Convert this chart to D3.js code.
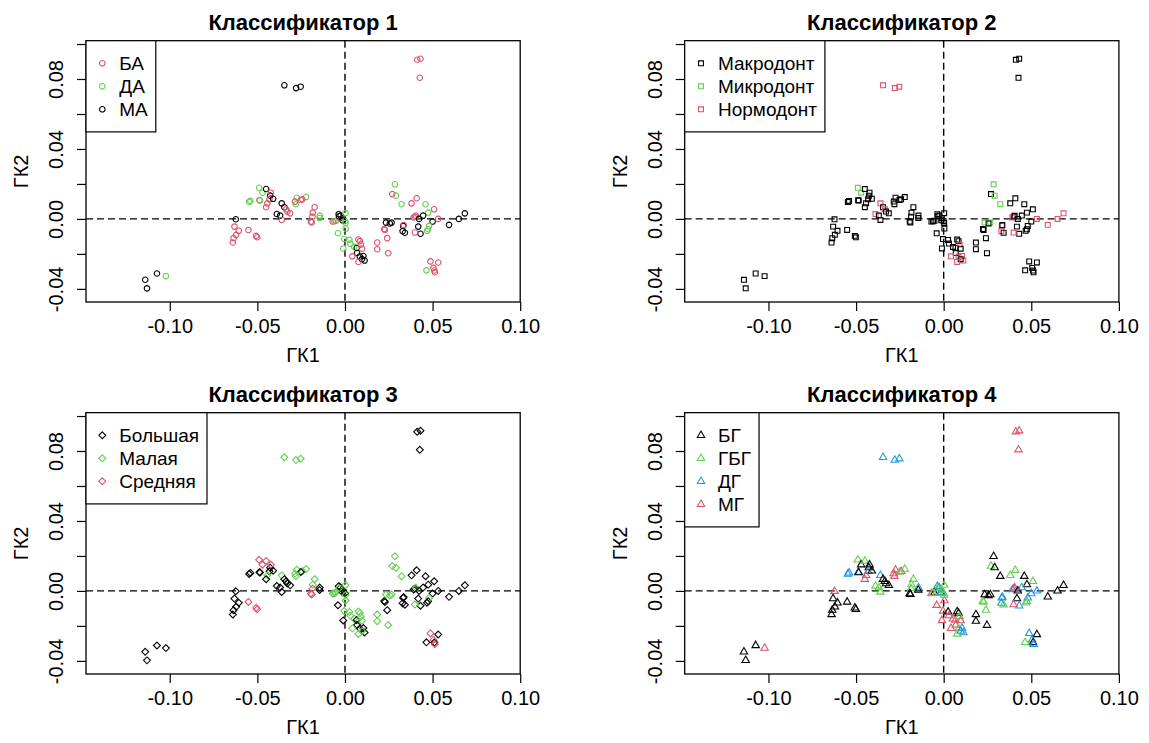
<!DOCTYPE html>
<html>
<head>
<meta charset="utf-8">
<script src="https://cdn.jsdelivr.net/npm/d3@7"></script>
<style>
  body { margin: 0; background: #ffffff; }
  svg { display: block; }
  text { font-family: "Liberation Sans", Arial, sans-serif; fill: #000; }
</style>
</head>
<body>
<svg id="chart" width="1149" height="743"></svg>
<script>
// Canonical-variate scores (ГК1, ГК2) of every specimen
const gk1 = [
  -0.0346, -0.0279, -0.0253, 0.0412, 0.0431, 0.0427, -0.1140, -0.1073, -0.1130, -0.1022,
  -0.0623, -0.0631, -0.0606, -0.0621, -0.0636, -0.0640, -0.0551, -0.0507, -0.0501,
  -0.0490, -0.0471, -0.0450, -0.0427, -0.0423, -0.0540, -0.0547, -0.0488, -0.0485, -0.0431, -0.0443, -0.0450, -0.0410,
  -0.0361, -0.0346, -0.0336, -0.0313, -0.0389, -0.0370, -0.0361, -0.0329,
  -0.0275, -0.0222, -0.0243, -0.0252, -0.0281, -0.0285,
  -0.0173, -0.0184, -0.0186, -0.0194, -0.0190, -0.0144, -0.0145,
  -0.0036, -0.0025, -0.0011, 0.0003, -0.0070, -0.0053, -0.0061, 0.0000, -0.0014, -0.0034,
  -0.0040, 0.0004, -0.0004, 0.0025, -0.0010, 0.0030, 0.0053, 0.0003,
  0.0067, 0.0069, 0.0085, 0.0105, 0.0112, 0.0097, 0.0077, 0.0085, 0.0091, 0.0097, 0.0042, 0.0077,
  0.0184, 0.0184, 0.0247, 0.0241, 0.0228, 0.0224, 0.0234, 0.0266, 0.0256,
  0.0285, 0.0270, 0.0291, 0.0323, 0.0380, 0.0409, 0.0460, 0.0509, 0.0475,
  0.0399, 0.0392, 0.0405, 0.0423, 0.0446, 0.0500, 0.0532, 0.0418, 0.0431, 0.0399, 0.0475, 0.0480, 0.0468,
  0.0332, 0.0329, 0.0342, 0.0335, 0.0594, 0.0650, 0.0684,
  0.0488, 0.0532, 0.0505, 0.0510, 0.0465, 0.0513
];
const gk2 = [
  0.0764, 0.0748, 0.0756, 0.0910, 0.0916, 0.0807, -0.0348, -0.0312, -0.0397, -0.0327,
  -0.0002, -0.0044, -0.0068, -0.0091, -0.0110, -0.0135, -0.0063, -0.0097, -0.0105,
  0.0178, 0.0150, 0.0171, 0.0133, 0.0150, 0.0103, 0.0097, 0.0107, 0.0105, 0.0112, 0.0089, 0.0067, 0.0115,
  0.0089, 0.0067, 0.0055, 0.0032, 0.0028, 0.0019, -0.0006, 0.0042,
  0.0121, 0.0125, 0.0112, 0.0108, 0.0084, 0.0099,
  0.0067, 0.0036, 0.0013, -0.0015, -0.0020, 0.0019, 0.0005,
  0.0027, 0.0019, 0.0004, 0.0033, -0.0015, -0.0011, -0.0013, -0.0013, -0.0008, 0.0015,
  -0.0082, -0.0055, -0.0115, -0.0120, -0.0169, -0.0141, -0.0160, -0.0023,
  -0.0166, -0.0195, -0.0215, -0.0212, -0.0238, -0.0230, -0.0118, -0.0127, -0.0147, -0.0170, -0.0214, -0.0246,
  -0.0135, -0.0173, -0.0196, -0.0110, -0.0063, -0.0058, -0.0021, -0.0021, -0.0026,
  0.0198, 0.0142, 0.0133, 0.0084, 0.0089, 0.0118, 0.0084, 0.0055, 0.0036,
  0.0013, 0.0008, 0.0018, 0.0000, 0.0019, -0.0015, 0.0000, -0.0044, -0.0085, -0.0078, -0.0059, -0.0040, -0.0068,
  -0.0040, -0.0070, -0.0079, -0.0035, -0.0034, 0.0000, 0.0032,
  -0.0243, -0.0249, -0.0280, -0.0295, -0.0294, -0.0305
];

// Group of every specimen under each classifier (index into the legend labels)
const legend1 = ["БА", "ДА", "МА"];
const class1 = [
  2,2,2,0,0,0,2,2,2,1,
  2,0,0,0,0,0,0,0,0,
  1,1,2,2,0,1,1,0,1,0,0,0,2,
  2,2,0,0,2,2,0,0,
  1,1,0,0,1,0,
  0,0,0,0,0,1,1,
  2,2,2,1,0,0,1,1,2,2,
  1,1,1,1,1,1,1,1,
  2,2,2,2,2,2,0,0,0,0,0,0,
  0,0,0,0,0,0,2,2,2,
  1,0,1,1,0,0,1,0,1,
  0,0,0,2,2,2,0,2,2,0,1,1,1,
  2,2,2,0,2,2,2,
  0,0,0,0,1,0
];
const legend2 = ["Макродонт", "Микродонт", "Нормодонт"];
const class2 = [
  2,2,2,0,0,0,0,0,0,0,
  0,0,0,0,0,0,0,0,0,
  1,1,0,0,0,0,0,0,0,0,0,0,0,
  2,0,2,0,2,0,0,0,
  0,0,0,0,0,0,
  0,0,0,0,0,0,0,
  0,0,0,0,0,0,0,0,0,0,
  0,0,0,0,0,0,0,0,
  0,0,2,2,2,0,0,0,2,0,2,2,
  0,0,0,0,0,0,1,1,0,
  1,0,1,1,0,0,0,0,0,
  0,2,0,0,0,0,2,0,0,2,0,0,0,
  2,2,0,0,2,2,2,
  0,0,0,0,0,0
];
const legend3 = ["Большая", "Малая", "Средняя"];
const class3 = [
  1,1,1,0,0,0,0,0,0,0,
  0,0,0,0,0,0,2,2,2,
  2,2,2,0,2,0,0,0,0,0,1,0,0,
  1,0,0,0,0,0,0,0,
  1,1,1,0,1,1,
  1,1,2,2,2,0,0,
  0,0,0,1,1,1,1,0,0,1,
  0,1,1,1,0,1,1,1,
  0,0,0,0,0,1,1,1,1,1,1,1,
  1,1,1,0,0,0,1,1,1,
  1,1,1,1,0,0,0,0,0,
  0,0,1,0,0,0,0,0,0,1,0,1,0,
  0,0,0,0,0,0,0,
  2,0,2,0,0,2
];
const legend4 = ["БГ", "ГБГ", "ДГ", "МГ"];
const class4 = [
  2,2,2,3,3,3,0,0,0,3,
  3,0,0,0,0,0,0,0,0,
  1,0,1,0,0,2,2,2,0,2,3,3,0,
  2,0,0,0,1,1,1,0,
  3,1,3,1,3,3,
  1,1,1,0,0,2,0,
  2,2,1,1,3,0,1,1,2,1,
  3,3,3,0,3,3,3,1,
  3,3,1,2,2,2,0,0,1,3,3,1,
  0,0,0,1,1,1,0,0,0,
  0,1,0,0,1,1,0,1,0,
  3,2,3,0,2,2,2,0,2,3,1,2,1,
  2,2,1,2,0,0,0,
  2,0,2,0,1,2
];

// Axis ticks
const xTicks = [-0.10, -0.05, 0.00, 0.05, 0.10];
const yTicks = [-0.04, -0.02, 0.00, 0.02, 0.04, 0.06, 0.08, 0.10];
const yTickLabels = [-0.04, 0.00, 0.04, 0.08];

// R-style plotting symbols (size argument = circle radius)
const symCircle = { draw(c, r) { c.moveTo(r, 0); c.arc(0, 0, r, 0, 2 * Math.PI); c.closePath(); } };
const symSquare = { draw(c, r) { const s = 0.8862 * r; c.rect(-s, -s, 2 * s, 2 * s); } };
const symDiamond = { draw(c, r) { const d = 1.2533 * r; c.moveTo(0, -d); c.lineTo(d, 0); c.lineTo(0, d); c.lineTo(-d, 0); c.closePath(); } };
const symTriangle = { draw(c, r) { const a = 1.5551 * r, b = 0.7776 * r, w = 1.3468 * r; c.moveTo(0, -a); c.lineTo(w, b); c.lineTo(-w, b); c.closePath(); } };

const RED = "#DF536B", GREEN = "#61D04F", BLUE = "#2297E6", BLACK = "#000000";

const panels = [
  { title: "Классификатор 1", groups: class1, labels: legend1, colors: [RED, GREEN, BLACK], shape: symCircle, col: 0, row: 0 },
  { title: "Классификатор 2", groups: class2, labels: legend2, colors: [BLACK, GREEN, RED], shape: symSquare, col: 1, row: 0 },
  { title: "Классификатор 3", groups: class3, labels: legend3, colors: [BLACK, GREEN, RED], shape: symDiamond, col: 0, row: 1 },
  { title: "Классификатор 4", groups: class4, labels: legend4, colors: [BLACK, GREEN, BLUE, RED], shape: symTriangle, col: 1, row: 1 }
];

const colStep = 598.7, rowStep = 372;
const box = { left: 86, right: 520.2, top: 40.7, bottom: 302 };
const xDomain = [-0.1478, 0.10], yDomain = [-0.0475, 0.1019];
const PT_R = 2.75;
const fmt = d => d.toFixed(2);

const svg = d3.select("#chart");
const pts = d3.range(gk1.length);

panels.forEach(p => {
  const g = svg.append("g").attr("transform", `translate(${p.col * colStep},${p.row * rowStep})`);
  const x = d3.scaleLinear().domain(xDomain).range([box.left, box.right]);
  const y = d3.scaleLinear().domain(yDomain).range([box.bottom, box.top]);

  // reference lines through the origin
  g.append("line")
    .attr("x1", x(0)).attr("x2", x(0)).attr("y1", box.top).attr("y2", box.bottom)
    .attr("stroke", "#000").attr("stroke-width", 1.4).attr("stroke-dasharray", "7,4");
  g.append("line")
    .attr("x1", box.left).attr("x2", box.right).attr("y1", y(0)).attr("y2", y(0))
    .attr("stroke", "#000").attr("stroke-width", 1.4).attr("stroke-dasharray", "7,4");

  // points
  const sym = d3.symbol().type(p.shape).size(PT_R);
  g.append("g").selectAll("path").data(pts).join("path")
    .attr("transform", i => `translate(${x(gk1[i])},${y(gk2[i])})`)
    .attr("d", sym)
    .attr("fill", "none")
    .attr("stroke", i => p.colors[p.groups[i]])
    .attr("stroke-width", 1.1);

  // axes
  const xa = g.append("g").attr("transform", `translate(0,${box.bottom})`)
    .call(d3.axisBottom(x).tickValues(xTicks).tickFormat(fmt).tickSize(9).tickSizeOuter(0));
  xa.select(".domain").remove();
  xa.selectAll("line").attr("stroke-width", 1.2);
  xa.selectAll("text").attr("y", 31).attr("dy", 0).style("font-size", "20px");

  const ya = g.append("g").attr("transform", `translate(${box.left},0)`)
    .call(d3.axisLeft(y).tickValues(yTicks)
      .tickFormat(d => yTickLabels.some(v => Math.abs(v - d) < 1e-9) ? fmt(d) : "")
      .tickSize(9).tickSizeOuter(0));
  ya.select(".domain").remove();
  ya.selectAll("line").attr("stroke-width", 1.2);
  ya.selectAll("text")
    .attr("transform", "rotate(-90)")
    .attr("x", 0).attr("y", -23).attr("dy", 0)
    .attr("text-anchor", "middle")
    .style("font-size", "20px");

  // frame
  g.append("rect")
    .attr("x", box.left).attr("y", box.top)
    .attr("width", box.right - box.left).attr("height", box.bottom - box.top)
    .attr("fill", "none").attr("stroke", "#000").attr("stroke-width", 1.3);

  // titles
  const cx = (box.left + box.right) / 2;
  g.append("text").attr("x", cx).attr("y", 29.5).attr("text-anchor", "middle")
    .style("font-size", "22px").style("font-weight", "bold").text(p.title);
  g.append("text").attr("x", cx).attr("y", 362).attr("text-anchor", "middle")
    .style("font-size", "20px").text("ГК1");
  g.append("text")
    .attr("transform", `translate(28,${(box.top + box.bottom) / 2}) rotate(-90)`)
    .attr("text-anchor", "middle").style("font-size", "20px").text("ГК2");

  // legend
  const lg = g.append("g");
  const rowH = 23, firstRow = box.top + 22.6;
  const frame = lg.append("rect").attr("fill", "#fff").attr("stroke", "#000").attr("stroke-width", 1.2);
  const items = lg.selectAll("g.item").data(p.labels).join("g").attr("class", "item")
    .attr("transform", (d, i) => `translate(${box.left},${firstRow + i * rowH})`);
  items.append("path").attr("transform", "translate(16.3,0)")
    .attr("d", sym).attr("fill", "none")
    .attr("stroke", (d, i) => p.colors[i]).attr("stroke-width", 1.1);
  const texts = items.append("text").attr("x", 33.3).attr("y", 7).style("font-size", "19px").text(d => d);
  let maxW = 0;
  texts.each(function () { maxW = Math.max(maxW, this.getComputedTextLength()); });
  frame.attr("x", box.left).attr("y", box.top)
    .attr("width", 33.3 + maxW + 8)
    .attr("height", 22.6 * 2 + (p.labels.length - 1) * rowH);
});
</script>
</body>
</html>
